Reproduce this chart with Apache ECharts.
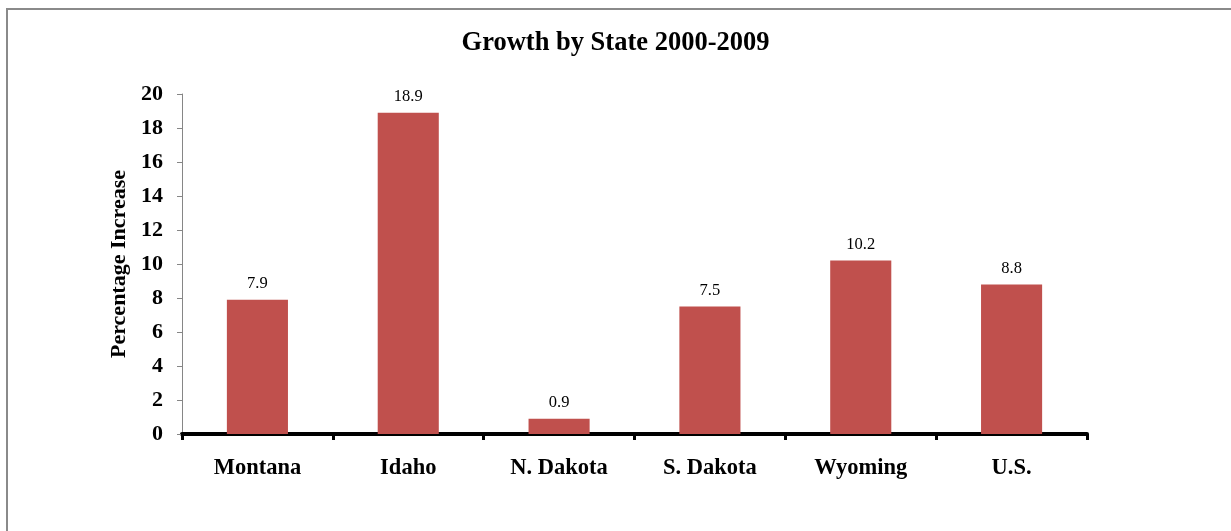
<!DOCTYPE html>
<html>
<head>
<meta charset="utf-8">
<script src="https://cdn.jsdelivr.net/npm/echarts@6/dist/echarts.min.js"></script>
<style>
  html, body { margin: 0; padding: 0; background: #ffffff; }
  #chart { width: 1231px; height: 531px; }
</style>
</head>
<body>
<div id="chart"></div>
<script>
// Population growth by state, 2000-2009 (percent)
const states = ['Montana', 'Idaho', 'N. Dakota', 'S. Dakota', 'Wyoming', 'U.S.'];
const growth = [7.9, 18.9, 0.9, 7.5, 10.2, 8.8];
const yTicks = { min: 0, max: 20, interval: 2 };

const serif = '"Liberation Serif", "Times New Roman", serif';
const chart = echarts.init(document.getElementById('chart'), null, { renderer: 'canvas' });

chart.setOption({
  backgroundColor: '#ffffff',
  animation: false,
  title: {
    text: 'Growth by State 2000-2009',
    left: 'center',
    top: 25,
    textStyle: { fontFamily: serif, fontWeight: 'bold', fontSize: 26.5, color: '#000' }
  },
  graphic: [{
    type: 'rect',
    silent: true,
    shape: { x: 7, y: 9, width: 1250, height: 560 },
    style: { fill: 'none', stroke: '#8a8a8a', lineWidth: 2 }
  }],
  grid: { left: 182, right: 144, top: 94, bottom: 97, containLabel: false },
  xAxis: {
    type: 'category',
    data: states,
    boundaryGap: true,
    axisLine: { lineStyle: { color: '#000', width: 4 } },
    axisTick: { show: true, alignWithLabel: false, length: 6, lineStyle: { color: '#000', width: 3 } },
    axisLabel: { fontFamily: serif, fontWeight: 'bold', fontSize: 22.5, color: '#000', margin: 23 }
  },
  yAxis: {
    type: 'value',
    min: yTicks.min,
    max: yTicks.max,
    interval: yTicks.interval,
    name: 'Percentage Increase',
    nameLocation: 'middle',
    nameGap: 52,
    nameTextStyle: { fontFamily: serif, fontWeight: 'bold', fontSize: 22, color: '#000' },
    axisLine: { show: true, lineStyle: { color: '#868686', width: 1 } },
    axisTick: { show: true, length: 5, lineStyle: { color: '#868686', width: 1 } },
    splitLine: { show: false },
    axisLabel: { fontFamily: serif, fontWeight: 'bold', fontSize: 22, color: '#000', margin: 19 }
  },
  series: [{
    type: 'bar',
    data: growth,
    barWidth: '40.5%',
    itemStyle: { color: '#C0504D' },
    label: {
      show: true,
      position: 'top',
      distance: 7.5,
      fontFamily: serif,
      fontSize: 16.5,
      color: '#000',
      formatter: p => p.value.toFixed(1)
    }
  }]
});
</script>
</body>
</html>
